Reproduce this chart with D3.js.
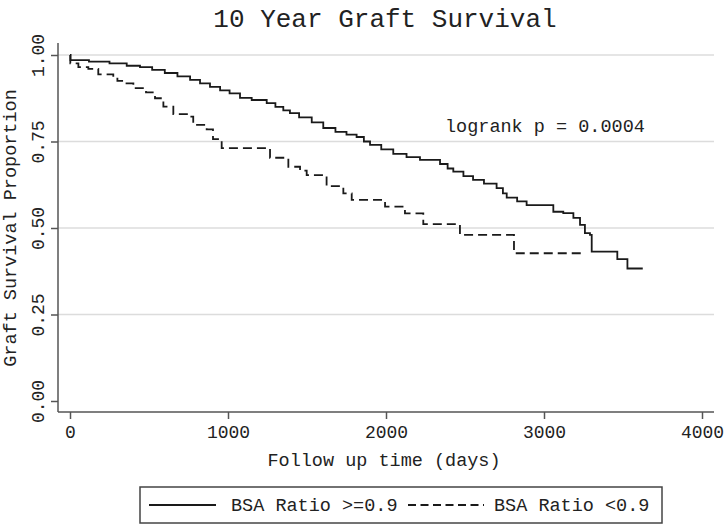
<!DOCTYPE html>
<html>
<head>
<meta charset="utf-8">
<script src="https://cdn.jsdelivr.net/npm/d3@7.9.0/dist/d3.min.js"></script>
<style>
  body { margin: 0; background: #fff; }
  svg { display: block; }
  text { font-family: "Liberation Mono", "Courier New", monospace; fill: #222; }
</style>
</head>
<body>
<svg id="chart" width="724" height="526"></svg>
<script>
// survival estimates: [days, proportion]
const bsaHigh = [
  [0, 1.000], [3, 0.985], [120, 0.981], [250, 0.976], [359, 0.969], [443, 0.965],
  [520, 0.957], [600, 0.948], [680, 0.938], [760, 0.928], [823, 0.918], [886, 0.908],
  [950, 0.898], [1010, 0.889], [1076, 0.876], [1150, 0.870], [1245, 0.861], [1300, 0.850],
  [1350, 0.840], [1392, 0.832], [1450, 0.820], [1530, 0.805], [1603, 0.789], [1680, 0.778],
  [1750, 0.770], [1814, 0.763], [1860, 0.750], [1899, 0.740], [1970, 0.727], [2046, 0.714],
  [2130, 0.705], [2215, 0.697], [2342, 0.685], [2390, 0.672], [2426, 0.663], [2490, 0.650],
  [2551, 0.639], [2620, 0.628], [2700, 0.615], [2740, 0.600], [2764, 0.588], [2830, 0.577],
  [2890, 0.566], [3059, 0.547], [3122, 0.543], [3186, 0.529], [3228, 0.509], [3259, 0.485],
  [3291, 0.480], [3302, 0.432], [3464, 0.410], [3528, 0.383], [3625, 0.383]
];
const bsaLow = [
  [0, 1.000], [2, 0.976], [53, 0.965], [116, 0.960], [179, 0.944], [274, 0.932],
  [300, 0.925], [348, 0.918], [401, 0.904], [481, 0.892], [538, 0.875], [591, 0.851],
  [654, 0.829], [749, 0.822], [780, 0.798], [865, 0.785], [905, 0.757], [960, 0.731],
  [1266, 0.703], [1382, 0.677], [1456, 0.666], [1498, 0.653], [1624, 0.621], [1730, 0.600],
  [1783, 0.581], [1994, 0.562], [2120, 0.542], [2236, 0.511], [2468, 0.480], [2810, 0.427],
  [3249, 0.427]
];
const xTicks = [0, 1000, 2000, 3000, 4000];
const yTicks = [0, 0.25, 0.5, 0.75, 1];
const gridTicks = [0.25, 0.5, 0.75, 1];
const seriesNames = ['BSA Ratio >=0.9', 'BSA Ratio <0.9'];

const svg = d3.select('#chart');
const x = d3.scaleLinear().domain([0, 4000]).range([70, 702]);
const y = d3.scaleLinear().domain([0, 1]).range([401, 55]);
const axisLeft = 58, axisBottom = 412, plotRight = 714, plotTop = 43;
const dash = '9,5';

// title
svg.append('text')
  .attr('x', 385).attr('y', 27)
  .attr('text-anchor', 'middle')
  .style('font-size', '26px')
  .text('10 Year Graft Survival');

// grid
svg.append('g').selectAll('line')
  .data(gridTicks)
  .join('line')
  .attr('x1', axisLeft).attr('x2', plotRight)
  .attr('y1', d => y(d)).attr('y2', d => y(d))
  .attr('stroke', '#dcdcdc').attr('stroke-width', 1.5);

// y axis
const gy = svg.append('g').attr('transform', `translate(${axisLeft},0)`)
  .call(d3.axisLeft(y).tickValues(yTicks).tickFormat(d3.format('.2f')).tickSize(7).tickSizeOuter(0));
gy.select('.domain').remove();
gy.selectAll('.tick line').attr('stroke', '#555').attr('stroke-width', 1.5);
gy.selectAll('.tick text')
  .attr('x', null).attr('dy', null)
  .attr('transform', 'translate(-14,0) rotate(-90)')
  .attr('text-anchor', 'middle')
  .style('font-size', '18px').style('font-family', '"Liberation Mono", monospace').attr('fill', '#222');
svg.append('line')
  .attr('x1', axisLeft).attr('x2', axisLeft).attr('y1', plotTop).attr('y2', axisBottom)
  .attr('stroke', '#555').attr('stroke-width', 1.5);

// x axis
const gx = svg.append('g').attr('transform', `translate(0,${axisBottom})`)
  .call(d3.axisBottom(x).tickValues(xTicks).tickFormat(d3.format('d')).tickSize(7).tickSizeOuter(0));
gx.select('.domain').remove();
gx.selectAll('.tick line').attr('stroke', '#555').attr('stroke-width', 1.5);
gx.selectAll('.tick text')
  .attr('y', 26).attr('dy', null)
  .style('font-size', '18px').style('font-family', '"Liberation Mono", monospace').attr('fill', '#222');
svg.append('line')
  .attr('x1', axisLeft).attr('x2', plotRight).attr('y1', axisBottom).attr('y2', axisBottom)
  .attr('stroke', '#555').attr('stroke-width', 1.5);

// axis titles
svg.append('text')
  .attr('transform', 'translate(16,228) rotate(-90)')
  .attr('text-anchor', 'middle')
  .style('font-size', '18.5px')
  .text('Graft Survival Proportion');
svg.append('text')
  .attr('x', 384).attr('y', 466)
  .attr('text-anchor', 'middle')
  .style('font-size', '18.5px')
  .text('Follow up time (days)');

// curves
const line = d3.line()
  .x(d => x(d[0]))
  .y(d => y(d[1]))
  .curve(d3.curveStepAfter);

svg.append('path')
  .datum(bsaHigh)
  .attr('d', line)
  .attr('fill', 'none').attr('stroke', '#1a1a1a').attr('stroke-width', 1.8);

svg.append('path')
  .datum(bsaLow)
  .attr('d', line)
  .attr('fill', 'none').attr('stroke', '#1a1a1a').attr('stroke-width', 1.8)
  .attr('stroke-dasharray', dash);

// annotation
svg.append('text')
  .attr('x', 445).attr('y', 132)
  .style('font-size', '18.5px')
  .text('logrank p = 0.0004');

// legend
const legend = svg.append('g');
legend.append('rect')
  .attr('x', 140).attr('y', 487).attr('width', 522).attr('height', 36)
  .attr('fill', 'none').attr('stroke', '#444').attr('stroke-width', 1.5);
const legendItems = [
  { x0: 149, x1: 216, tx: 231, dash: null },
  { x0: 408, x1: 484, tx: 494, dash: '8,4.5' }
];
legendItems.forEach((d, i) => {
  legend.append('line')
    .attr('x1', d.x0).attr('x2', d.x1).attr('y1', 505).attr('y2', 505)
    .attr('stroke', '#1a1a1a').attr('stroke-width', 1.8)
    .attr('stroke-dasharray', d.dash);
  legend.append('text')
    .attr('x', d.tx).attr('y', 511)
    .style('font-size', '18.5px')
    .text(seriesNames[i]);
});
</script>
</body>
</html>
